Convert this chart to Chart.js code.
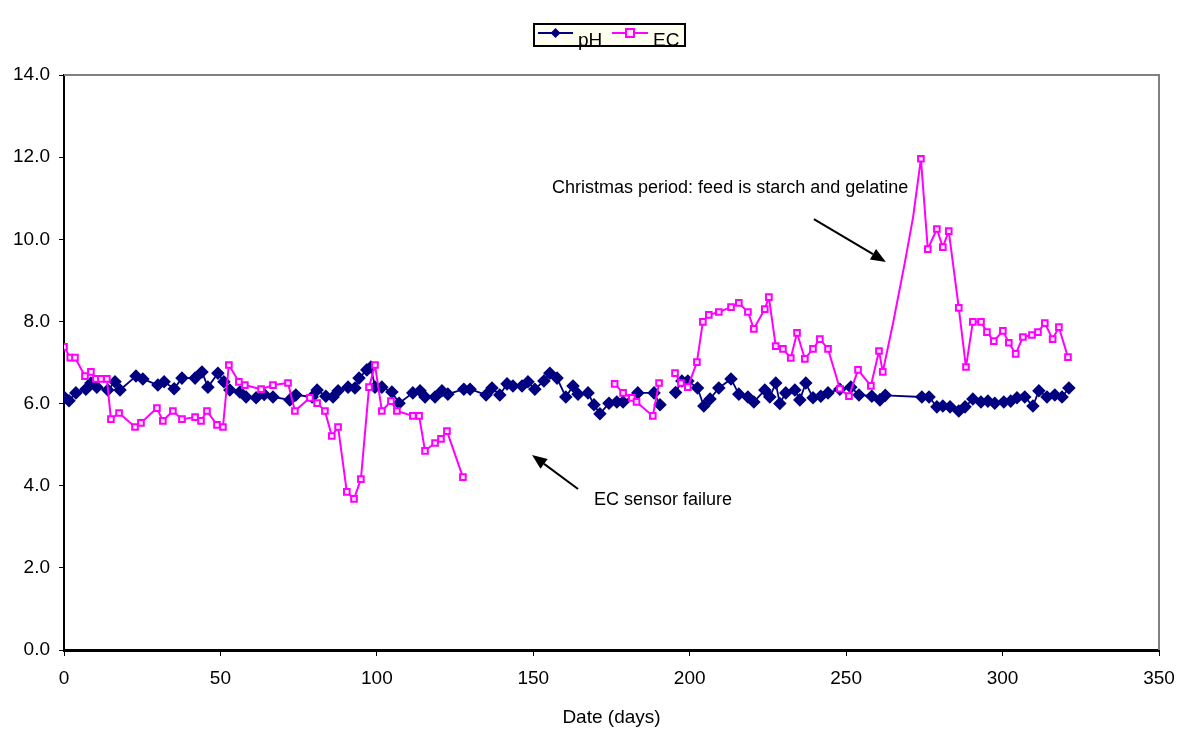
<!DOCTYPE html>
<html>
<head>
<meta charset="utf-8">
<script src="https://cdn.jsdelivr.net/npm/chart.js@4.4.0/dist/chart.umd.min.js"></script>
<style>
  html, body { margin: 0; padding: 0; background: #ffffff; }
</style>
</head>
<body>
<canvas id="myChart" width="1179" height="729"></canvas>
<script>
// pH по дням
const phDays = [0, 1.6, 3.8, 7, 8.6, 10.5, 14, 16.3, 17.9, 23, 25.2, 30, 32, 35.2, 37.7, 41.9, 44.1, 46, 49.2, 51.1,
    53, 56.2, 58.2, 61.4, 64, 66.8, 72.2, 74.1, 79.3, 80.9, 83.7, 86, 87.6, 90.8, 93, 94.3, 96.8, 98.1, 99.4, 101.6,
    104.8, 107.1, 111.5, 113.8, 115.4, 118.6, 120.8, 122.7, 127.8, 129.8, 134.9, 136.8, 139.3, 141.6, 143.5, 146.4,
    148.3, 150.5, 153.4, 155.3, 157.6, 160.4, 162.7, 164.3, 167.5, 169.4, 171.3, 174.2, 176.7, 178.7, 183.4, 188.6,
    190.5, 193, 195.5, 197.5, 199.4, 202.5, 204.5, 206.5, 209.3, 213.2, 215.7, 218.6, 220.5, 224, 225.6, 227.5, 228.8,
    230.7, 233.6, 235.2, 237.1, 239.4, 241.9, 244.2, 248, 251.5, 254.1, 258.2, 260.8, 262.5, 274.2, 276.5, 279, 280.9,
    283.2, 286, 288, 290.5, 293.1, 295.3, 297.5, 300.4, 302.6, 304.6, 307.1, 309.7, 311.6, 314.2, 316.7, 319, 321.2];
const phValues = [6.16, 6.07, 6.26, 6.35, 6.5, 6.4, 6.33, 6.53, 6.33, 6.67, 6.6, 6.45, 6.53, 6.36, 6.62, 6.62, 6.77, 6.4, 6.74, 6.53,
    6.33, 6.28, 6.16, 6.14, 6.22, 6.16, 6.09, 6.21, 6.16, 6.33, 6.18, 6.16, 6.31, 6.4, 6.38, 6.62, 6.82, 6.89, 6.4, 6.4,
    6.28, 6.01, 6.26, 6.31, 6.16, 6.16, 6.31, 6.23, 6.35, 6.35, 6.21, 6.38, 6.21, 6.48, 6.43, 6.43,
    6.53, 6.35, 6.55, 6.74, 6.62, 6.16, 6.43, 6.23, 6.26, 5.97, 5.75, 6.01, 6.04, 6.04, 6.26, 6.26,
    5.97, null, 6.27, 6.55, 6.55, 6.38, 5.94, 6.11, 6.38, 6.6, 6.23, 6.16, 6.04, 6.33, 6.16, 6.5, 6.0,
    6.26, 6.33, 6.09, 6.5, 6.14, 6.18, 6.26, 6.35, 6.4, 6.21, 6.18, 6.09, 6.2, 6.16, 6.16, 5.92, 5.94,
    5.92, 5.82, 5.92, 6.11, 6.04, 6.06, 6.01, 6.04, 6.06, 6.14, 6.16, 5.94, 6.31, 6.16, 6.21, 6.16, 6.38];

// EC по дням, null - датчик не работал
const ecDays = [0, 2, 3.5, 6.7, 8.6, 10.2, 11.8, 13.7, 15, 17.6, 22.7, 24.6, 29.7, 31.6, 34.8, 37.7, 41.9, 43.8, 45.7, 48.9,
    50.8, 52.7, 55.9, 57.8, 63, 66.8, 71.6, 73.8, 78.6, 80.9, 83.4, 85.6, 87.6, 90.4, 92.7, 94.9, 97.5, 99.4, 101.6, 104.5,
    106.4, 111.5, 113.5, 115.4, 118.6, 120.5, 122.4, 127.5, 150, 176, 178.7, 181.5, 183, 188.2, 190.2, 193, 195.3, 197.2,
    199.4, 202.3, 204.2, 206.1, 209.3, 213.2, 215.7, 218.6, 220.5, 224, 225.3, 227.5, 229.8, 232.3, 234.3, 236.8, 239.4,
    241.6, 244.2, 248, 250.9, 253.8, 257.9, 260.5, 261.7, 265, 268.8, 271.4, 273.9, 276.1, 279, 280.9, 282.8, 286, 288.3,
    290.5, 293.1, 295, 297.2, 300.1, 302, 304.2, 306.5, 309.4, 311.3, 313.5, 316, 318, 320.9];
const ecValues = [7.38, 7.12, 7.12, 6.67, 6.77, 6.6, 6.6, 6.6, 5.62, 5.77, 5.43, 5.53, 5.89, 5.58, 5.82, 5.62, 5.67, 5.58, 5.82, 5.48,
    5.43, 6.94, 6.53, 6.45, 6.35, 6.45, 6.5, 5.82, 6.14, 6.01, 5.82, 5.21, 5.43, 3.85, 3.68, 4.16, 6.4, 6.94, 5.82, 6.06,
    5.82, 5.7, 5.7, 4.85, 5.04, 5.14, 5.33, 4.21, null, 6.48, 6.26, 6.14, 6.04, 5.7, 6.5, null, 6.74, 6.5,
    6.4, 7.01, 7.99, 8.16, 8.23, 8.35, 8.45, 8.23, 7.82, 8.3, 8.59, 7.4, 7.33, 7.11, 7.72, 7.09, 7.33,
    7.57, 7.33, 6.36, 6.18, 6.82, 6.43, 7.28, 6.77, 7.96, 9.45, 10.54, 11.96, 9.76, 10.25, 9.81, 10.2, 8.33, 6.89,
    7.99, 7.99, 7.74, 7.52, 7.77, 7.48, 7.21, 7.62, 7.67, 7.74, 7.96, 7.57, 7.86, 7.13];
// дни без маркера (точки на подъёме в праздники)
const ecNoMarkerDays = [265, 268.8, 271.4];

const seriesNames = ['pH', 'EC'];
const xTitle = 'Date (days)';
const noteTexts = ['Christmas period: feed is starch and gelatine', 'EC sensor failure'];

const FONT = 'Arial, "Liberation Sans", sans-serif';

function toPoints(days, values) {
    return days.map((d, i) => ({ x: d, y: values[i] }));
}

// Рамка сверху и справа
const plotFrame = {
    id: 'plotFrame',
    beforeDatasetsDraw(chart) {
        const { ctx, chartArea: a } = chart;
        ctx.save();
        ctx.strokeStyle = '#808080';
        ctx.lineWidth = 2;
        ctx.beginPath();
        ctx.moveTo(a.left, a.top);
        ctx.lineTo(a.right, a.top);
        ctx.lineTo(a.right, a.bottom);
        ctx.stroke();
        ctx.restore();
    }
};

function arrow(ctx, x1, y1, x2, y2) {
    const ang = Math.atan2(y2 - y1, x2 - x1);
    const len = 15, half = 6;
    const bx = x2 - len * Math.cos(ang), by = y2 - len * Math.sin(ang);
    ctx.beginPath();
    ctx.moveTo(x1, y1);
    ctx.lineTo(bx, by);
    ctx.stroke();
    ctx.beginPath();
    ctx.moveTo(x2, y2);
    ctx.lineTo(bx + half * Math.sin(ang), by - half * Math.cos(ang));
    ctx.lineTo(bx - half * Math.sin(ang), by + half * Math.cos(ang));
    ctx.closePath();
    ctx.fill();
}

// Подписи со стрелками
const notes = {
    id: 'notes',
    afterDraw(chart) {
        const { ctx, scales: { x, y } } = chart;
        ctx.save();
        ctx.fillStyle = '#000';
        ctx.strokeStyle = '#000';
        ctx.lineWidth = 2;
        ctx.font = '18px ' + FONT;
        ctx.textBaseline = 'middle';
        ctx.textAlign = 'left';
        ctx.fillText(noteTexts[0], x.getPixelForValue(156), y.getPixelForValue(11.25));
        arrow(ctx, x.getPixelForValue(239.7), y.getPixelForValue(10.49), x.getPixelForValue(262.7), y.getPixelForValue(9.45));
        ctx.fillText(noteTexts[1], x.getPixelForValue(169.4), y.getPixelForValue(3.66));
        arrow(ctx, x.getPixelForValue(164.3), y.getPixelForValue(3.92), x.getPixelForValue(149.6), y.getPixelForValue(4.75));
        ctx.restore();
    }
};

// Легенда в рамке
const legendBox = {
    id: 'legendBox',
    afterDraw(chart) {
        const ctx = chart.ctx;
        const ds = chart.data.datasets;
        ctx.save();
        ctx.fillStyle = '#FFFFF0';
        ctx.fillRect(534, 24, 151, 22);
        ctx.strokeStyle = '#000';
        ctx.lineWidth = 2;
        ctx.strokeRect(534, 24, 151, 22);

        const items = [{ ds: ds[0], x0: 538, x1: 573, tx: 578 }, { ds: ds[1], x0: 612, x1: 648, tx: 653 }];
        items.forEach(it => {
            const cy = 33;
            ctx.strokeStyle = it.ds.borderColor;
            ctx.lineWidth = 2;
            ctx.beginPath();
            ctx.moveTo(it.x0, cy);
            ctx.lineTo(it.x1, cy);
            ctx.stroke();
            const mx = (it.x0 + it.x1) / 2;
            if (it.ds.pointStyle === 'rectRot') {
                ctx.fillStyle = it.ds.borderColor;
                ctx.beginPath();
                ctx.moveTo(mx, cy - 5);
                ctx.lineTo(mx + 5, cy);
                ctx.lineTo(mx, cy + 5);
                ctx.lineTo(mx - 5, cy);
                ctx.closePath();
                ctx.fill();
            } else {
                ctx.fillStyle = it.ds.pointBackgroundColor;
                ctx.fillRect(mx - 4, cy - 4, 8, 8);
                ctx.strokeRect(mx - 4, cy - 4, 8, 8);
            }
            ctx.fillStyle = '#000';
            ctx.font = '19px ' + FONT;
            ctx.textBaseline = 'alphabetic';
            ctx.textAlign = 'left';
            ctx.fillText(it.ds.label, it.tx, 46);
        });
        ctx.restore();
    }
};

const ctx = document.getElementById('myChart').getContext('2d');
const myChart = new Chart(ctx, {
    type: 'line',
    data: {
        datasets: [{
            label: seriesNames[0],
            data: toPoints(phDays, phValues),
            borderColor: '#000080',
            backgroundColor: '#000080',
            pointBackgroundColor: '#000080',
            pointBorderColor: '#000080',
            pointStyle: 'rectRot',
            pointRadius: 5.5,
            borderWidth: 1.8,
            borderJoinStyle: 'round',
            spanGaps: false,
            tension: 0,
            order: 1
        }, {
            label: seriesNames[1],
            data: toPoints(ecDays, ecValues),
            borderColor: '#FF00FF',
            backgroundColor: '#FF00FF',
            pointBackgroundColor: '#FFE6FF',
            pointBorderColor: '#FF00FF',
            pointBorderWidth: 2,
            pointStyle: 'rect',
            pointRadius: ecDays.map(d => ecNoMarkerDays.includes(d) ? 0 : 4),
            borderWidth: 2,
            borderJoinStyle: 'round',
            spanGaps: false,
            tension: 0,
            order: 0
        }]
    },
    options: {
        responsive: false,
        animation: false,
        devicePixelRatio: 1,
        layout: { padding: { top: 75, right: 20, left: 0, bottom: 0 } },
        scales: {
            x: {
                type: 'linear',
                min: 0,
                max: 350,
                afterFit: s => { s.height = 79; s.paddingLeft = 0; s.paddingRight = 0; },
                grid: { drawOnChartArea: false, drawTicks: true, tickLength: 6, color: '#000' },
                border: { display: true, color: '#000', width: 3 },
                ticks: { stepSize: 50, padding: 11, color: '#000', font: { size: 19, family: FONT } },
                title: { display: true, text: xTitle, color: '#000', font: { size: 19, family: FONT }, padding: { top: 0, bottom: 0 } }
            },
            y: {
                min: 0,
                max: 14,
                afterFit: s => { s.width = 64; },
                grid: { drawOnChartArea: false, drawTicks: true, tickLength: 5, color: '#000' },
                border: { display: true, color: '#000', width: 2 },
                ticks: { stepSize: 2, padding: 9, color: '#000', font: { size: 19, family: FONT },
                    callback: v => v.toFixed(1) }
            }
        },
        plugins: {
            legend: { display: false },
            tooltip: { enabled: false }
        }
    },
    plugins: [plotFrame, notes, legendBox]
});
</script>
</body>
</html>
